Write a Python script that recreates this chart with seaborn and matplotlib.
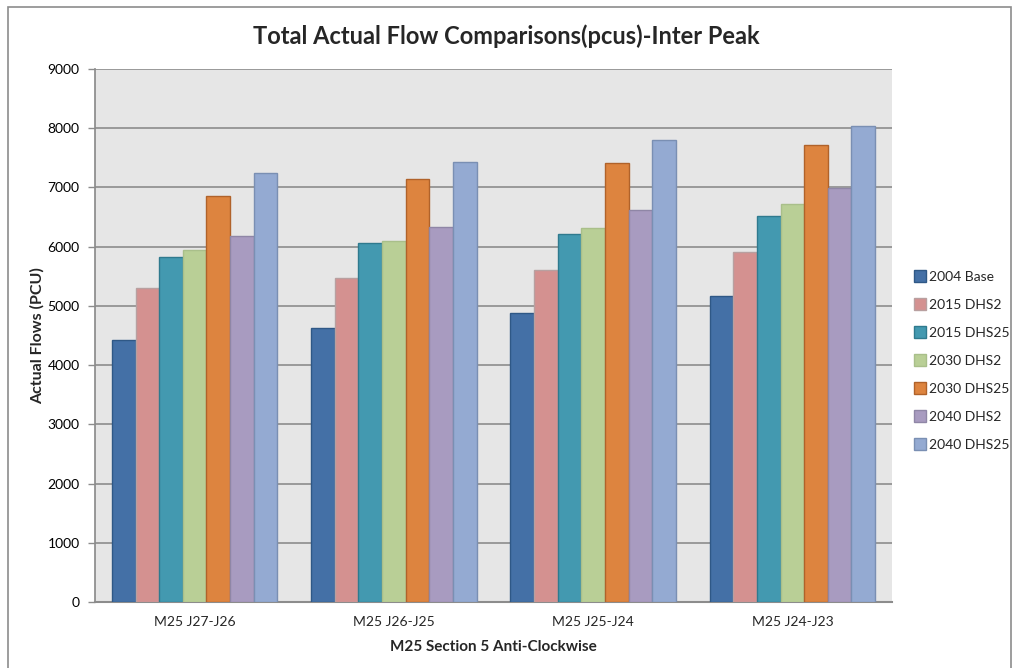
import matplotlib
matplotlib.use("Agg")
import matplotlib.pyplot as plt
from matplotlib.patches import Rectangle
from matplotlib.lines import Line2D
import seaborn as sns
import pandas as pd

# Road sections (x categories) and scenario series
sections = ["M25 J27-J26", "M25 J26-J25", "M25 J25-J24", "M25 J24-J23"]
scenarios = ["2004 Base", "2015 DHS2", "2015 DHS25", "2030 DHS2",
             "2030 DHS25", "2040 DHS2", "2040 DHS25"]

base_2004 = [4430, 4620, 4880, 5160]
dhs2_2015 = [5295, 5470, 5600, 5905]
dhs25_2015 = [5825, 6070, 6210, 6520]
dhs2_2030 = [5950, 6100, 6315, 6720]
dhs25_2030 = [6860, 7140, 7415, 7715]
dhs2_2040 = [6175, 6330, 6615, 6990]
dhs25_2040 = [7245, 7430, 7795, 8035]

series_values = [base_2004, dhs2_2015, dhs25_2015, dhs2_2030,
                 dhs25_2030, dhs2_2040, dhs25_2040]

y_ticks = [0, 1000, 2000, 3000, 4000, 5000, 6000, 7000, 8000, 9000]

fill_colors = ["#4470a6", "#d49190", "#4399b0", "#b9cf96",
               "#dd843f", "#a89bc0", "#94aad2"]
edge_colors = ["#2f5886", "#b8a0a0", "#2f7a8e", "#a9bf8a",
               "#b0622a", "#8f86a6", "#7a8fb3"]

rows = []
for name, vals in zip(scenarios, series_values):
    for sec, v in zip(sections, vals):
        rows.append({"Section": sec, "Scenario": name, "Flow": v})
df = pd.DataFrame(rows)

sns.set_theme(style="white")
plt.rcParams["font.family"] = ["Lato", "DejaVu Sans"]

fig = plt.figure(figsize=(10.13, 6.68), dpi=100)
ax = fig.add_axes([95 / 1013, 1 - 602 / 668, (892 - 95) / 1013, (602 - 69) / 668])
ax.set_facecolor("#e6e6e6")

sns.barplot(data=df, x="Section", y="Flow", hue="Scenario",
            order=sections, hue_order=scenarios,
            palette=fill_colors, width=0.83, gap=0, saturation=1,
            errorbar=None, legend=False, ax=ax, zorder=3)

# darker outline per series
for i, container in enumerate(ax.containers):
    for bar in container:
        bar.set_edgecolor(edge_colors[i])
        bar.set_linewidth(1.0)

ax.set_ylim(0, 9000)
ax.set_xlim(-0.5, len(sections) - 0.5)
ax.set_yticks(y_ticks)
ax.set_yticklabels([str(t) for t in y_ticks], fontsize=10, color="#000000")
ax.tick_params(axis="y", which="major", length=5, width=1, color="#8c8c8c",
               direction="out", pad=6, left=True)
ax.tick_params(axis="x", length=0, pad=10, labelsize=10)
ax.grid(axis="y", color="#8c8c8c", linewidth=1.2, zorder=0)
ax.set_axisbelow(True)

for side in ["top", "right"]:
    ax.spines[side].set_visible(False)
ax.spines["left"].set_color("#8c8c8c")
ax.spines["bottom"].set_color("#8c8c8c")
ax.spines["bottom"].set_linewidth(1.5)

ax.set_xlabel("M25 Section 5 Anti-Clockwise", fontsize=11, fontweight="bold",
              labelpad=9)
ax.set_ylabel("Actual Flows (PCU)", fontsize=11.5, fontweight="bold", labelpad=2)

fig.text(0.5, 1 - 36 / 668, "Total Actual Flow Comparisons(pcus)-Inter Peak",
         ha="center", va="center", fontsize=17, fontweight="bold")

# legend
handles = [Line2D([0], [0], marker="s", linestyle="none", markersize=8,
                  markerfacecolor=c, markeredgecolor=e, markeredgewidth=1)
           for c, e in zip(fill_colors, edge_colors)]
fig.legend(handles, scenarios, loc="center left",
           bbox_to_anchor=(907 / 1013, 1 - 361 / 668), frameon=False,
           fontsize=10, handletextpad=0.2, labelspacing=1.15,
           handlelength=1.0, borderaxespad=0)

# chart frame
fig.patches.append(Rectangle((8 / 1013, -0.01), 1003 / 1013, 1 - 7 / 668 + 0.01,
                             transform=fig.transFigure, fill=False,
                             edgecolor="#8c8c8c", linewidth=1.2))

fig.savefig("out.png", dpi=100, facecolor="white")
